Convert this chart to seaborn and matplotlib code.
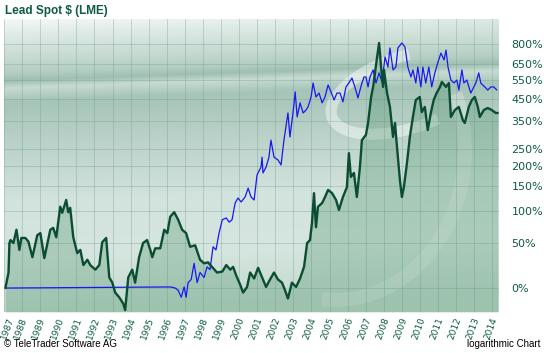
import numpy as np
import pandas as pd
import matplotlib
matplotlib.use("Agg")
import matplotlib.pyplot as plt
import matplotlib.transforms as mtransforms
from matplotlib.patches import Arc
import seaborn as sns

# ==========================
# DATA
# ==========================
lead_years = [1987.08, 1987.25, 1987.30, 1987.36, 1987.52, 1987.69, 1987.85, 1987.96,
              1988.18, 1988.35, 1988.57, 1988.84, 1989.01, 1989.23, 1989.56, 1989.72,
              1989.89, 1990.11, 1990.22, 1990.44, 1990.55, 1990.66, 1990.83, 1991.05,
              1991.22, 1991.39, 1991.61, 1991.77, 1992.05, 1992.27, 1992.43, 1992.65,
              1992.82, 1992.99, 1993.15, 1993.37, 1993.59, 1993.70, 1993.87, 1994.09,
              1994.25, 1994.47, 1994.69, 1994.91, 1995.09, 1995.20, 1995.36, 1995.64,
              1995.86, 1996.03, 1996.19, 1996.41, 1996.63, 1996.85, 1997.07, 1997.29,
              1997.57, 1997.84, 1998.06, 1998.28, 1998.50, 1998.78, 1999.07, 1999.29,
              1999.51, 1999.67, 1999.84, 2000.06, 2000.22, 2000.44, 2000.61, 2000.83,
              2001.05, 2001.27, 2001.49, 2001.71, 2001.93, 2002.15, 2002.37, 2002.54,
              2002.70, 2002.92, 2003.15, 2003.37, 2003.59, 2003.76, 2003.92, 2004.03,
              2004.14, 2004.25, 2004.36, 2004.59, 2004.75, 2004.92, 2005.14, 2005.36,
              2005.52, 2005.74, 2005.96, 2006.07, 2006.18, 2006.35, 2006.51, 2006.68,
              2006.79, 2007.01, 2007.13, 2007.30, 2007.41, 2007.63, 2007.74, 2007.85,
              2007.96, 2008.01, 2008.18, 2008.34, 2008.51, 2008.62, 2008.73, 2008.89,
              2009.00, 2009.11, 2009.28, 2009.44, 2009.61, 2009.77, 2009.99, 2010.10,
              2010.27, 2010.43, 2010.60, 2010.76, 2010.92, 2011.11, 2011.21, 2011.44,
              2011.60, 2011.71, 2011.93, 2012.15, 2012.37, 2012.48, 2012.70, 2012.87,
              2013.03, 2013.20, 2013.31, 2013.53, 2013.75, 2013.97, 2014.19, 2014.30]
lead_pct = [0, 15, 50, 54, 50, 69, 41, 57,
            57, 52, 32, 61, 64, 31, 69, 72,
            58, 108, 97, 121, 98, 106, 58, 37,
            41, 23, 29, 23, 18, 23, 51, 57,
            10, 5, -4, -8, -13, -18, 10, 18,
            5, 32, 50, 54, 41, 32, 43, 43,
            69, 64, 90, 98, 85, 69, 64, 45,
            47, 29, 25, 26, 21, 15, 16, 23,
            18, 21, 12, 3, -4, 1, 15, 9,
            20, 10, 1, 8, 15, 8, 5, -2,
            -9, 5, 1, 9, 21, 50, 54, 80,
            135, 73, 108, 115, 127, 142, 135, 121,
            102, 127, 148, 237, 172, 182, 127, 197,
            279, 297, 342, 459, 512, 701, 809, 632,
            512, 613, 479, 411, 290, 342, 256, 165,
            127, 148, 208, 290, 367, 444, 459, 388,
            411, 315, 384, 444, 479, 512, 540, 512,
            534, 367, 397, 411, 354, 342, 411, 444,
            459, 411, 367, 397, 406, 397, 384, 384]

comp_years = [1987.08, 1996.19, 1996.47, 1996.63, 1996.80, 1996.96, 1997.07, 1997.18,
              1997.35, 1997.51, 1997.68, 1997.84, 1998.06, 1998.23, 1998.39, 1998.56,
              1998.72, 1998.89, 1999.07, 1999.29, 1999.45, 1999.61, 1999.78, 1999.94,
              2000.11, 2000.33, 2000.50, 2000.66, 2000.83, 2000.99, 2001.21, 2001.27,
              2001.32, 2001.49, 2001.65, 2001.76, 2001.93, 2002.15, 2002.32, 2002.48,
              2002.70, 2002.81, 2002.98, 2003.10, 2003.21, 2003.37, 2003.54, 2003.70,
              2003.81, 2003.98, 2004.09, 2004.25, 2004.42, 2004.59, 2004.75, 2004.92,
              2005.08, 2005.25, 2005.41, 2005.58, 2005.74, 2005.91, 2006.07, 2006.24,
              2006.40, 2006.57, 2006.73, 2006.90, 2007.01, 2007.13, 2007.24, 2007.41,
              2007.57, 2007.74, 2007.90, 2008.07, 2008.23, 2008.34, 2008.51, 2008.67,
              2008.78, 2009.00, 2009.17, 2009.33, 2009.50, 2009.61, 2009.77, 2009.88,
              2010.05, 2010.16, 2010.32, 2010.49, 2010.65, 2010.82, 2010.98, 2011.16,
              2011.33, 2011.44, 2011.55, 2011.71, 2011.88, 2012.04, 2012.15, 2012.32,
              2012.43, 2012.59, 2012.81, 2012.98, 2013.09, 2013.25, 2013.36, 2013.58,
              2013.75, 2013.92, 2014.08, 2014.25]
comp_pct = [0, 1, 0, -2, -8, 1, -8, 5,
            8, 25, 5, 15, 10, 21, 18, 45,
            41, 64, 85, 88, 81, 85, 115, 125,
            117, 127, 146, 127, 121, 177, 197, 225,
            182, 197, 225, 279, 225, 217, 203, 279,
            384, 290, 384, 485, 367, 430, 384, 397,
            411, 459, 534, 459, 479, 430, 459, 523,
            485, 444, 479, 479, 435, 512, 534, 563,
            512, 454, 512, 569, 569, 512, 570, 613,
            534, 594, 540, 701, 632, 769, 613, 632,
            769, 809, 777, 632, 569, 613, 534, 632,
            512, 632, 534, 632, 512, 594, 659, 730,
            680, 753, 632, 551, 534, 551, 495, 613,
            534, 551, 479, 512, 534, 594, 534, 512,
            495, 512, 512, 495]

year_ticks = list(range(1987, 2015))
pct_ticks = [0, 50, 100, 150, 200, 250, 350, 450, 550, 650, 800]

lead = pd.DataFrame({"year": lead_years, "pct": lead_pct})
comp = pd.DataFrame({"year": comp_years, "pct": comp_pct})

# ==========================
# FIGURE
# ==========================
sns.set_style("white")
plt.rcParams["font.family"] = ["DejaVu Sans"]

W, H = 544, 353
fig = plt.figure(figsize=(W / 100, H / 100), dpi=100)
fig.patch.set_facecolor("white")
pos = [4 / W, 1 - 312 / H, 495 / W, 293 / H]

# background gradient + faint "S" swoosh (panel decoration)
bg = fig.add_axes(pos, zorder=0)
stops = [0.0, 0.18, 0.38, 0.59, 0.72, 0.765, 0.79, 0.815, 0.86, 0.95, 1.0]
cols = ["#c2d9ce", "#d6e5df", "#d2e2dc", "#b8d0c7", "#a6c4b8", "#c7dbd3",
        "#9fbfb2", "#b4cdc3", "#c4d9d0", "#e0ebe7", "#f4f8f6"]
rgb = np.array([matplotlib.colors.to_rgb(c) for c in cols])
vv, uu = np.mgrid[1:0:300j, 0:1:500j]
t = np.clip(vv - 0.06 * uu, 0, 1)
img = np.dstack([np.interp(t, stops, rgb[:, k]) for k in range(3)])
bg.imshow(img, aspect="auto", extent=(0, 1, 0, 1), interpolation="bilinear")
bg.set_axis_off()
px = mtransforms.IdentityTransform()
swoosh = [
    Arc((408, H - 92), 160, 72, angle=18, theta1=70, theta2=300,
        linewidth=8, color="white", alpha=0.45, transform=px),
    Arc((335, H - 150), 260, 300, angle=0, theta1=-95, theta2=25,
        linewidth=10, color="white", alpha=0.25, transform=px),
]
for p in swoosh:
    bg.add_patch(p)
    p.set_clip_path(bg.patch)

ax = fig.add_axes(pos, zorder=1)
ax.patch.set_alpha(0)

fwd = lambda v: np.log1p(np.asarray(v, dtype=float) / 100)
inv = lambda w: np.expm1(np.asarray(w, dtype=float)) * 100
ax.set_yscale("function", functions=(fwd, inv))
ax.set_xlim(1987.02, 2014.37)
ax.set_ylim(-19.4, 1028)

ax.fill_between(lead["year"], lead["pct"], -19.4, color="#3f8a5e", alpha=0.28,
                linewidth=0, zorder=2)
sns.lineplot(data=comp, x="year", y="pct", ax=ax, color="#1818f0",
             linewidth=0.9, estimator=None, sort=False, zorder=3)
sns.lineplot(data=lead, x="year", y="pct", ax=ax, color="#0b4d33",
             linewidth=1.7, estimator=None, sort=False, zorder=4)

# year labels: rotated, upper end just right of the gridline (as in the original)
ax.set_xticks(year_ticks)
ax.set_xticklabels([])
base_tr = mtransforms.blended_transform_factory(ax.transData, ax.transAxes)
for y in year_ticks:
    dx = 12 if y == year_ticks[0] else 7   # keep the first one inside the canvas
    tr = base_tr + mtransforms.ScaledTranslation(dx / 100, -4 / 100, fig.dpi_scale_trans)
    ax.text(y, 0, str(y), transform=tr, rotation=70, ha="right", va="top",
            fontsize=6.5, color="#0d5c40", clip_on=False)

ax.set_yticks(pct_ticks)
ax.set_yticklabels([f"{p}%" for p in pct_ticks], fontsize=8, color="#0d5c40")
ax.yaxis.tick_right()
ax.tick_params(axis="both", length=0)
ax.tick_params(axis="y", pad=9)
ax.set_xlabel("")
ax.set_ylabel("")
ax.grid(True, color="#6f9e8c", alpha=0.35, linewidth=0.7)
for s in ax.spines.values():
    s.set_visible(False)

fig.text(5 / W, 1 - 5 / H, "Lead Spot $ (LME)", fontsize=8.5, fontweight="bold",
         family="Liberation Sans", color="#0d5c40", ha="left", va="top")
fig.text(4 / W, 1 - 347 / H, "\u00a9 TeleTrader Software AG", fontsize=7,
         family="Liberation Sans", color="black", ha="left", va="baseline")
fig.text(540 / W, 1 - 347 / H, "logarithmic Chart", fontsize=7,
         family="Liberation Sans", color="black", ha="right", va="baseline")

fig.savefig("out.png", dpi=100)
